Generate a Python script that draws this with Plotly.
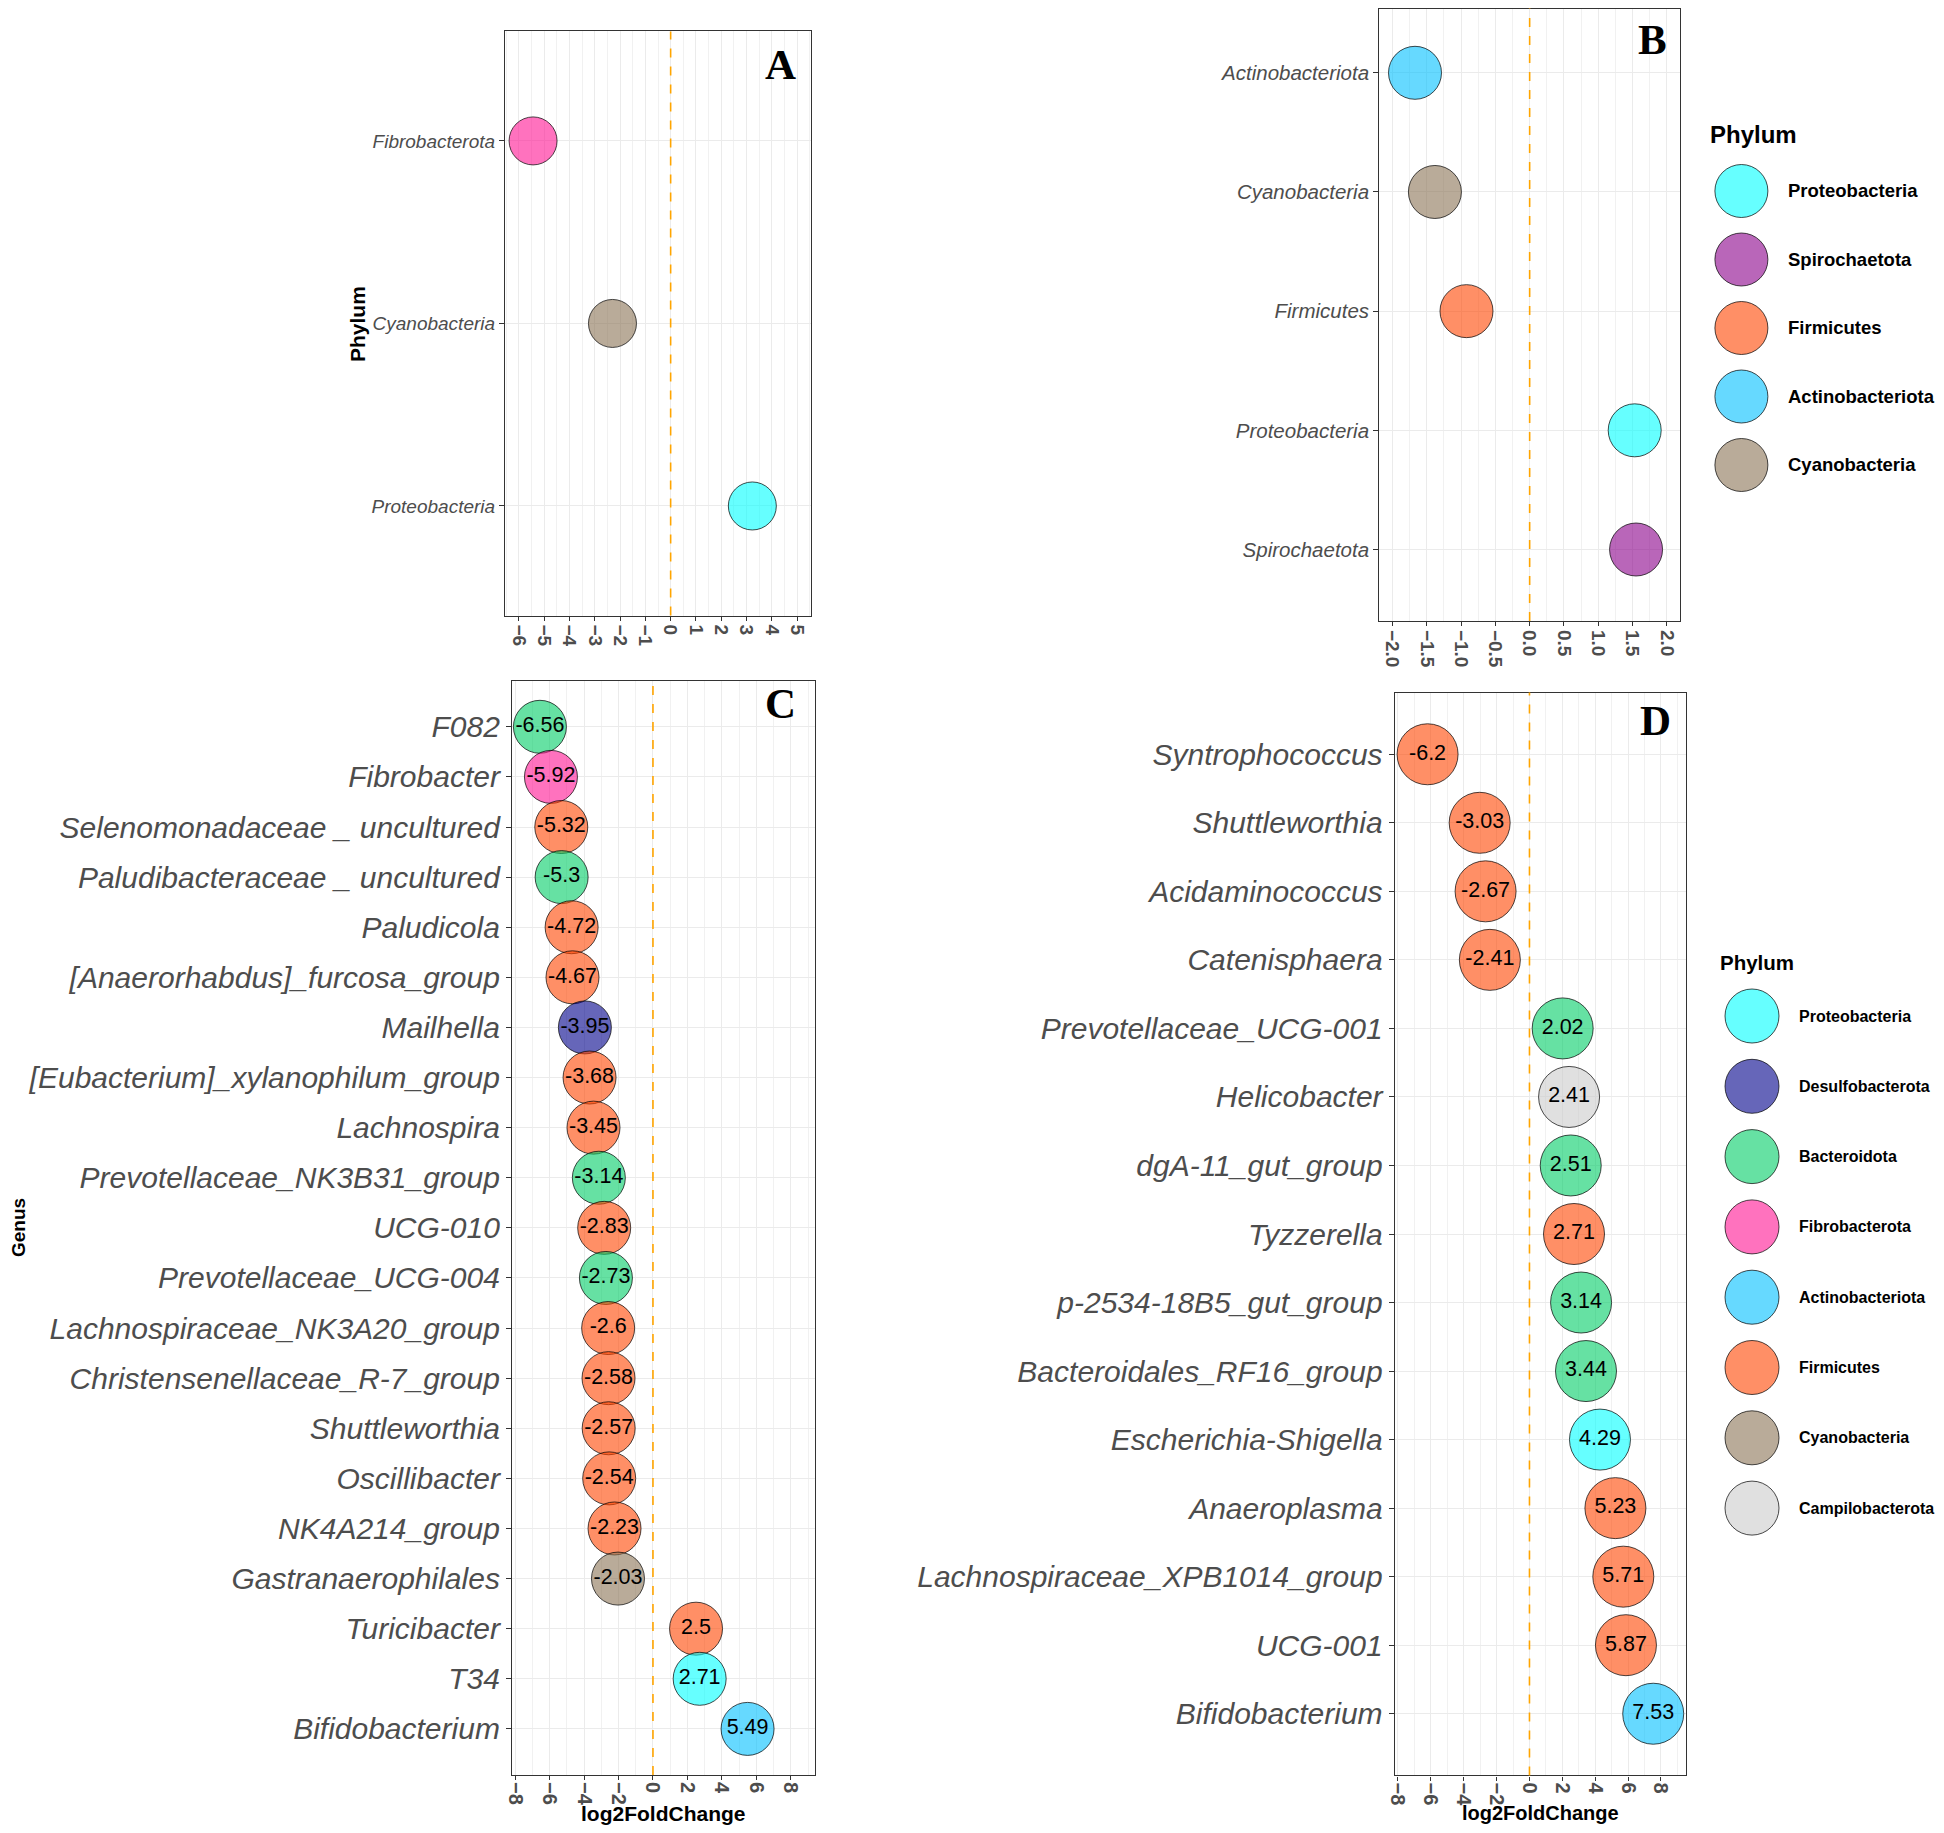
import plotly.graph_objects as go

# reference canvas size; the page adds an 8px body margin on every side,
# so the figure is drawn 16px smaller (no scrollbars) and offset by 8px
RW, RH = 1944, 1833
OFF = 8
W, H = RW - 2 * OFF, RH - 2 * OFF

# ---------------- data ----------------
a_phylum = ["Fibrobacterota", "Cyanobacteria", "Proteobacteria"]
a_lfc = [-5.44, -2.30, 3.23]

b_phylum = ["Actinobacteriota", "Cyanobacteria", "Firmicutes", "Proteobacteria", "Spirochaetota"]
b_lfc = [-1.67, -1.38, -0.92, 1.53, 1.55]

c_genus = ["F082", "Fibrobacter", "Selenomonadaceae _ uncultured", "Paludibacteraceae _ uncultured",
           "Paludicola", "[Anaerorhabdus]_furcosa_group", "Mailhella", "[Eubacterium]_xylanophilum_group",
           "Lachnospira", "Prevotellaceae_NK3B31_group", "UCG-010", "Prevotellaceae_UCG-004",
           "Lachnospiraceae_NK3A20_group", "Christensenellaceae_R-7_group", "Shuttleworthia",
           "Oscillibacter", "NK4A214_group", "Gastranaerophilales", "Turicibacter", "T34", "Bifidobacterium"]
c_lfc = [-6.56, -5.92, -5.32, -5.3, -4.72, -4.67, -3.95, -3.68, -3.45, -3.14, -2.83, -2.73,
         -2.6, -2.58, -2.57, -2.54, -2.23, -2.03, 2.5, 2.71, 5.49]
c_phylum = ["Bacteroidota", "Fibrobacterota", "Firmicutes", "Bacteroidota", "Firmicutes", "Firmicutes",
            "Desulfobacterota", "Firmicutes", "Firmicutes", "Bacteroidota", "Firmicutes", "Bacteroidota",
            "Firmicutes", "Firmicutes", "Firmicutes", "Firmicutes", "Firmicutes", "Cyanobacteria",
            "Firmicutes", "Proteobacteria", "Actinobacteriota"]

d_genus = ["Syntrophococcus", "Shuttleworthia", "Acidaminococcus", "Catenisphaera", "Prevotellaceae_UCG-001",
           "Helicobacter", "dgA-11_gut_group", "Tyzzerella", "p-2534-18B5_gut_group", "Bacteroidales_RF16_group",
           "Escherichia-Shigella", "Anaeroplasma", "Lachnospiraceae_XPB1014_group", "UCG-001", "Bifidobacterium"]
d_lfc = [-6.2, -3.03, -2.67, -2.41, 2.02, 2.41, 2.51, 2.71, 3.14, 3.44, 4.29, 5.23, 5.71, 5.87, 7.53]
d_phylum = ["Firmicutes", "Firmicutes", "Firmicutes", "Firmicutes", "Bacteroidota", "Campilobacterota",
            "Bacteroidota", "Firmicutes", "Bacteroidota", "Bacteroidota", "Proteobacteria", "Firmicutes",
            "Firmicutes", "Firmicutes", "Actinobacteriota"]

b_legend = ["Proteobacteria", "Spirochaetota", "Firmicutes", "Actinobacteriota", "Cyanobacteria"]
d_legend = ["Proteobacteria", "Desulfobacterota", "Bacteroidota", "Fibrobacterota", "Actinobacteriota",
            "Firmicutes", "Cyanobacteria", "Campilobacterota"]

phylum_rgb = {
    "Proteobacteria": "0,255,255",
    "Spirochaetota": "139,0,139",
    "Firmicutes": "255,69,0",
    "Actinobacteriota": "0,191,255",
    "Cyanobacteria": "139,115,85",
    "Desulfobacterota": "0,0,139",
    "Bacteroidota": "0,205,102",
    "Fibrobacterota": "255,20,147",
    "Campilobacterota": "204,204,204",
}
ALPHA = 0.6


def fill(p):
    return f"rgba({phylum_rgb[p]},{ALPHA})"


def clamp(v):
    return min(1.0, max(0.0, v))


def px_x(x):
    return clamp((x - OFF) / W)


def px_y(y):
    return clamp(1 - (y - OFF) / H)


def dx(l, r):
    return [px_x(l), px_x(r)]


def dy(t, b):
    return [px_y(b), px_y(t)]


SANS = "Liberation Sans, Arial, sans-serif"
SERIF = "Liberation Serif, Times New Roman, serif"
GRID = "#ebebeb"
BORDER = "#333333"
TXT = "#4d4d4d"

fig = go.Figure()

panels = [
    # key, cats, vals, phyla, xdom px, ydom px, xrange, pad, size, dtick, minor, ytickfont, xtickfont, labels, lblsize, standoff
    ("A", a_phylum, a_lfc, a_phylum, (505, 811), (31.4, 615.5), (-6.55, 5.55), 0.6, 48, 1, 0.5, 19, 19, False, 12, 0),
    ("B", b_phylum, b_lfc, b_phylum, (1379.3, 1680), (1.3, 621), (-2.19, 2.19), 0.6, 53, 0.5, 0.25, 20.5, 19, False, 12, 0),
    ("C", c_genus, c_lfc, c_phylum, (512, 814.6), (680.7, 1775), (-8.18, 9.38), 0.92, 53, 2, 1, 30, 20, True, 21.5, -2),
    ("D", d_genus, d_lfc, d_phylum, (1394.7, 1685.6), (692.6, 1775.4), (-8.2, 9.5), 0.9, 61, 2, 1, 30, 20, True, 21.5, -2),
]

layout = dict(width=W, height=H, margin=dict(l=0, r=0, t=0, b=0), template="none",
              plot_bgcolor="white", paper_bgcolor="white", showlegend=False,
              annotations=[], shapes=[])

for i, (key, cats, vals, phy, xd, yd, xr, pad, msize, dt, mdt, yfs, xfs, lbl, lfs, so) in enumerate(panels):
    n = i + 1
    xa = "x" if n == 1 else f"x{n}"
    ya = "y" if n == 1 else f"y{n}"
    ncat = len(cats)
    top, bot = yd
    step = (bot - top) / (ncat - 1 + 2 * pad)
    top_c = max(top, OFF + 0.5)
    pad_top = pad - (top_c - top) / step
    tr = dict(
        x=vals, y=cats, xaxis=xa, yaxis=ya,
        mode="markers+text" if lbl else "markers",
        marker=dict(size=msize, color=[fill(p) for p in phy],
                    line=dict(color="rgba(0,0,0,0.7)", width=1)),
        cliponaxis=False, hoverinfo="skip")
    if lbl:
        tr["text"] = [f"{v:g}" for v in vals]
        tr["textposition"] = "middle center"
        tr["textfont"] = dict(family=SANS, size=lfs, color="black")
    fig.add_trace(go.Scatter(**tr))
    layout["xaxis" if n == 1 else f"xaxis{n}"] = dict(
        domain=dx(*xd), anchor=ya, range=list(xr), dtick=dt, tick0=0,
        tickformat=".1f" if key == "B" else "d",
        showgrid=True, gridcolor=GRID, gridwidth=1.2, zeroline=False,
        minor=dict(dtick=mdt, tick0=0, showgrid=True, gridcolor="#f1f1f1", gridwidth=0.8, ticks=""),
        showline=True, linecolor=BORDER, linewidth=1.2, mirror=True,
        ticks="outside", ticklen=4, tickcolor=BORDER, tickwidth=1, ticklabelstandoff=so,
        tickangle=90, tickfont=dict(family=SANS, size=xfs, color=TXT, weight="bold"))
    layout["yaxis" if n == 1 else f"yaxis{n}"] = dict(
        domain=dy(top_c, bot), anchor=xa, type="category", categoryorder="array", categoryarray=cats,
        range=[ncat - 1 + pad, -pad_top],
        showgrid=True, gridcolor=GRID, gridwidth=1.2, zeroline=False,
        showline=True, linecolor=BORDER, linewidth=1.2, mirror=True,
        ticks="outside", ticklen=5, tickcolor=BORDER, tickwidth=1,
        tickfont=dict(family=SANS, size=yfs, color=TXT, style="italic"))
    layout["shapes"].append(dict(type="line", xref=xa, yref=f"{ya} domain", x0=0, x1=0, y0=0, y1=1,
                                 line=dict(color="#FFA500", width=1.6, dash="dash"), layer="above"))

# panel letters (positions in reference pixels)
letter_px = {"A": (780, 64), "B": (1652, 39), "C": (780, 703), "D": (1655, 720)}
for key in ["A", "B", "C", "D"]:
    lx, ly = letter_px[key]
    layout["annotations"].append(dict(text=key, xref="paper", yref="paper", x=px_x(lx), y=px_y(ly),
                                      xanchor="center", yanchor="middle", showarrow=False,
                                      font=dict(family=SERIF, size=43, color="black", weight="bold")))

# axis titles
layout["annotations"] += [
    dict(text="Phylum", xref="paper", yref="paper", x=px_x(357), y=px_y(324), textangle=-90,
         showarrow=False, xanchor="center", yanchor="middle",
         font=dict(family=SANS, size=21, color="black", weight="bold")),
    dict(text="Genus", xref="paper", yref="paper", x=px_x(18), y=px_y(1228), textangle=-90,
         showarrow=False, xanchor="center", yanchor="middle",
         font=dict(family=SANS, size=19, color="black", weight="bold")),
    dict(text="log2FoldChange", xref="x3 domain", yref="paper", x=0.5, y=px_y(1813),
         showarrow=False, xanchor="center", yanchor="middle",
         font=dict(family=SANS, size=21, color="black", weight="bold")),
    dict(text="log2FoldChange", xref="x4 domain", yref="paper", x=0.5, y=px_y(1813),
         showarrow=False, xanchor="center", yanchor="middle",
         font=dict(family=SANS, size=20, color="black", weight="bold")),
]

# custom legends (large keys)
legends = [
    # names, axis n, y px of first item, spacing, circle x, label x, title x, title idx, msize, fs, tfs
    (b_legend, 5, 191, 68.5, 41.4, 85.5, 8, -0.82, 53, 18.5, 24),
    (d_legend, 6, 1016, 70.3, 52, 97, 17.6, -0.76, 54, 16, 20.5),
]
for names, n, y0, sp, cx, lx, tx, tidx, ms, fs, tfs in legends:
    idx = list(range(len(names)))
    fig.add_trace(go.Scatter(
        x=[cx] * len(names), y=idx, xaxis=f"x{n}", yaxis=f"y{n}", mode="markers",
        marker=dict(size=ms, color=[fill(p) for p in names], line=dict(color="rgba(0,0,0,0.7)", width=1)),
        cliponaxis=False, hoverinfo="skip"))
    lo, hi = -1.5, len(names) - 0.5
    x_right = OFF + W
    layout[f"xaxis{n}"] = dict(domain=[px_x(1700), 1.0], range=[0, x_right - 1700], visible=False,
                               anchor=f"y{n}")
    layout[f"yaxis{n}"] = dict(domain=dy(y0 + lo * sp, y0 + hi * sp), range=[hi, lo], visible=False,
                               anchor=f"x{n}")
    for j, name in enumerate(names):
        layout["annotations"].append(dict(text=name, xref=f"x{n}", yref=f"y{n}", x=lx, y=j,
                                          xanchor="left", yanchor="middle", showarrow=False,
                                          font=dict(family=SANS, size=fs, color="black", weight="bold")))
    layout["annotations"].append(dict(text="Phylum", xref=f"x{n}", yref=f"y{n}", x=tx, y=tidx,
                                      xanchor="left", yanchor="middle", showarrow=False,
                                      font=dict(family=SANS, size=tfs, color="black", weight="bold")))

fig.update_layout(**layout)
fig.write_html("out.html")
